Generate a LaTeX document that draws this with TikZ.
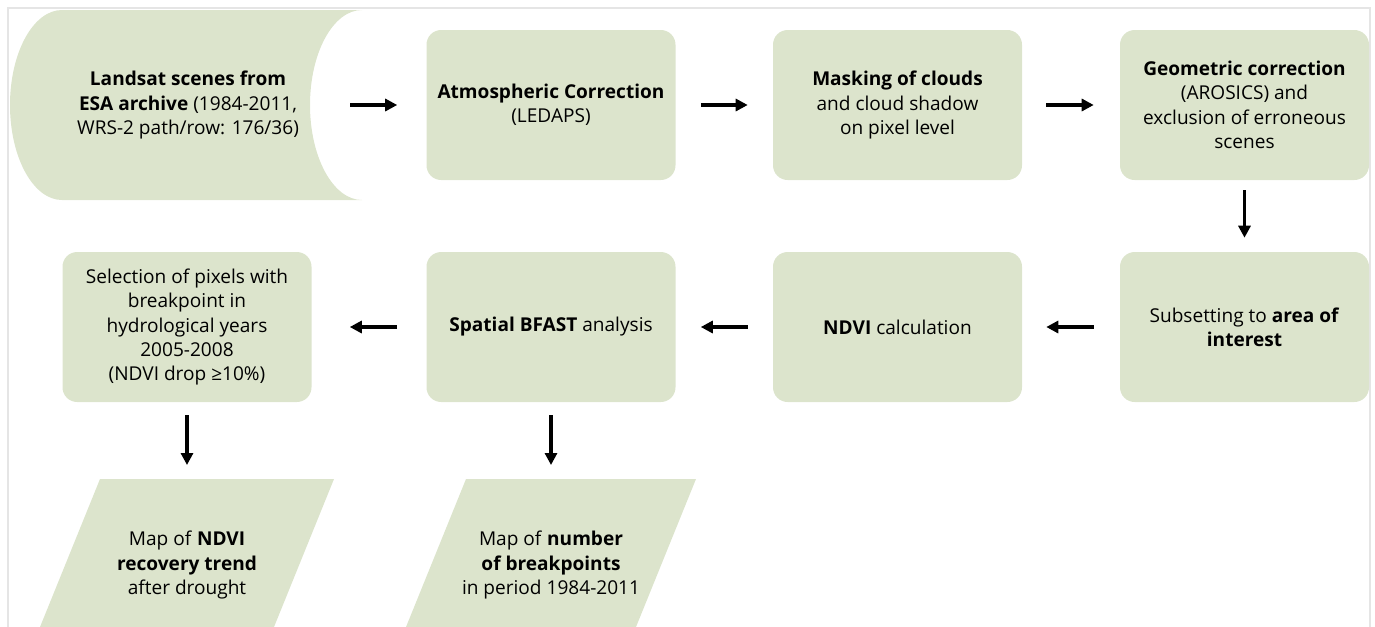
\documentclass[tikz,border=0pt]{standalone}
\usepackage{fontspec}
\setmainfont{Open Sans}
\usetikzlibrary{arrows.meta}
\definecolor{sage}{RGB}{220,228,204}
\tikzset{
  box/.style={fill=sage, rounded corners=11pt, minimum width=186.75pt, minimum height=112.5pt, align=center, inner sep=0pt, font=\fontsize{14.3pt}{18.3pt}\selectfont},
  txt/.style={align=center, inner sep=0pt, font=\fontsize{14.3pt}{18.3pt}\selectfont},
  arr/.style={line width=2.4pt, -{Triangle[length=9pt,width=9pt]}},
}
\begin{document}
\begin{tikzpicture}[x=0.75pt,y=-0.75pt]
\useasboundingbox (0,0) rectangle (1375,626);
\draw[black!10, line width=0.8pt] (8,627) -- (8,8) -- (1370,8) -- (1370,627);
% stored data shape
\fill[sage] (62,10) -- (362,10) .. controls (333.3,10) and (310,52.5) .. (310,105)
  .. controls (310,157.5) and (333.3,200) .. (362,200) -- (62,200)
  .. controls (33.3,200) and (10,157.5) .. (10,105)
  .. controls (10,52.5) and (33.3,10) .. (62,10) -- cycle;
\node[txt] (land) at (188,105) {\textbf{Landsat scenes from}\\\textbf{ESA archive} (1984-2011,\\WRS-2 path/row: 176/36)};
\coordinate (landR) at (338,105);
% row 1
\node[box] (atm) at (551,105) {\textbf{Atmospheric Correction}\\(LEDAPS)};
\node[box] (mask) at (897.5,105) {\textbf{Masking of clouds}\\and cloud shadow\\on pixel level};
\node[box] (geo) at (1244.5,105) {\textbf{Geometric correction}\\(AROSICS) and\\exclusion of erroneous\\scenes};
% row 2
\node[box] (subset) at (1244.5,327) {Subsetting to \textbf{area of}\\\textbf{interest}};
\node[box] (ndvi) at (897.5,327) {\textbf{NDVI} calculation};
\node[box] (bfast) at (551,327) {\textbf{Spatial BFAST} analysis};
\node[box] (sel) at (187,327) {Selection of pixels with\\breakpoint in\\hydrological years\\2005-2008\\(NDVI drop ≥10\%)};
% parallelograms
\fill[sage] (100,479) -- (334,479) -- (274,627) -- (40,627) -- cycle;
\fill[sage] (466,479) -- (696,479) -- (636,627) -- (406,627) -- cycle;
\node[txt] (map1) at (187,565) {Map of \textbf{NDVI}\\\textbf{recovery trend}\\after drought};
\node[txt] (map2) at (551,565) {Map of \textbf{number}\\\textbf{of breakpoints}\\in period 1984-2011};
\coordinate (m1top) at (187,479);
\coordinate (m2top) at (551,479);
% arrows
\draw[arr, shorten <=9pt, shorten >=21.75pt] (landR) -- (atm.west);
\draw[arr, shorten <=18.75pt, shorten >=18.75pt] (atm.east) -- (mask.west);
\draw[arr, shorten <=18pt, shorten >=19.5pt] (mask.east) -- (geo.west);
\draw[arr, shorten <=7.5pt, shorten >=10.5pt] (geo.south) -- (subset.north);
\draw[arr, shorten <=19.5pt, shorten >=18pt] (subset.west) -- (ndvi.east);
\draw[arr, shorten <=18.75pt, shorten >=18.75pt] (ndvi.west) -- (bfast.east);
\draw[arr, shorten <=21.75pt, shorten >=28.5pt] (bfast.west) -- (sel.east);
\draw[arr, shorten <=9.75pt, shorten >=10.5pt] (sel.south) -- (m1top);
\draw[arr, shorten <=9.75pt, shorten >=10.5pt] (bfast.south) -- (m2top);
\end{tikzpicture}
\end{document}
